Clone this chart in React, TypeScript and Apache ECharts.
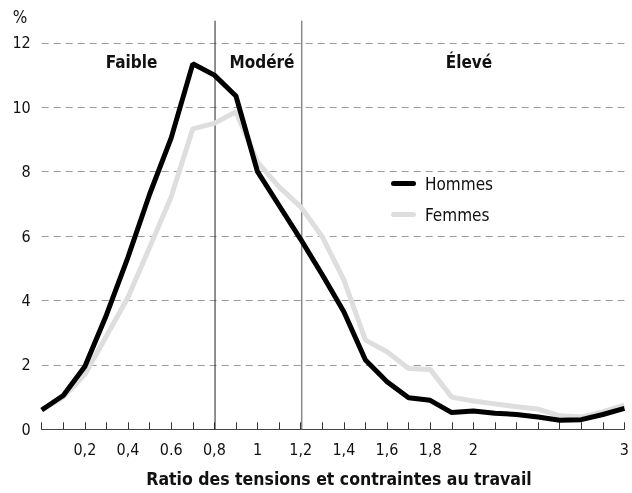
import React, { useEffect, useRef } from "react";
import * as echarts from "echarts";

const categories = ["0", "0.1", "0.2", "0.3", "0.4", "0.5", "0.6", "0.7", "0.8", "0.9", "1.0", "1.1", "1.2", "1.3", "1.4", "1.5", "1.6", "1.7", "1.8", "1.9", "2.0", "2.1", "2.2", "2.3", "2.4", "2.5", "2.6", "3"];
const tickLabels = ["", "", "0,2", "", "0,4", "", "0.6", "", "0,8", "", "1", "", "1,2", "", "1,4", "", "1,6", "", "1,8", "", "2", "", "", "", "", "", "", "3"];
const hommes = [0.6, 1.05, 1.95, 3.55, 5.35, 7.3, 9.05, 11.35, 11.0, 10.35, 8.0, 6.95, 5.9, 4.8, 3.65, 2.15, 1.48, 0.98, 0.9, 0.52, 0.57, 0.5, 0.46, 0.38, 0.28, 0.3, 0.46, 0.65];
const femmes = [0.6, 1.0, 1.7, 2.9, 4.1, 5.65, 7.22, 9.33, 9.5, 9.86, 8.3, 7.53, 6.91, 5.98, 4.64, 2.77, 2.41, 1.89, 1.86, 1.0, 0.88, 0.79, 0.7, 0.63, 0.42, 0.38, 0.55, 0.75];
const dividers = ["0.8", "1.2"];
const zones = ["Faible", "Modéré", "Élevé"];
const yTicks = [0, 2, 4, 6, 8, 10, 12];

const FONT = "'Liberation Sans Narrow', 'Arial Narrow', 'DejaVu Sans Condensed', 'Liberation Sans', sans-serif";
const LEGEND_ICON = "path://M2.5,0 H22.5 A2.5,2.5 0 0 1 22.5,5 H2.5 A2.5,2.5 0 0 1 2.5,0 Z";

export default function App() {
  const ref = useRef<HTMLDivElement>(null);
  useEffect(() => {
    if (!ref.current) return;
    const chart = echarts.init(ref.current, null, { renderer: "svg" });
    const gridPos = { left: 41.7, right: 5.3, bottom: 63.7 };
    const zoneX = [131.5, 262, 469];
    const option: any = {
      animation: false,
      textStyle: { fontFamily: FONT },
      grid: [
        { ...gridPos, top: 42.9 },
        { ...gridPos, top: 20.7 },
      ],
      legend: {
        data: ["Hommes", "Femmes"],
        orient: "vertical",
        left: 386,
        top: 170,
        icon: LEGEND_ICON,
        itemWidth: 25,
        itemHeight: 5,
        itemGap: 14,
        textStyle: { fontFamily: FONT, fontSize: 17, color: "#111", padding: [0, 0, 0, 4] },
      },
      xAxis: [
        {
          type: "category",
          gridIndex: 0,
          data: categories,
          boundaryGap: false,
          axisLine: { lineStyle: { color: "#444", width: 1 } },
          axisTick: { inside: true, length: 7, interval: 0, lineStyle: { color: "#333" } },
          axisLabel: {
            interval: 0,
            margin: 12,
            fontSize: 16,
            color: "#111",
            fontFamily: FONT,
            formatter: (_v: string, i: number) => tickLabels[i],
          },
          splitLine: { show: false },
        },
        {
          type: "category",
          gridIndex: 1,
          data: categories,
          boundaryGap: false,
          show: false,
        },
      ],
      yAxis: [
        {
          type: "value",
          gridIndex: 0,
          min: yTicks[0],
          max: yTicks[yTicks.length - 1],
          interval: 2,
          axisLine: { show: false },
          axisTick: { show: false },
          axisLabel: { margin: 11, fontSize: 16, color: "#111", fontFamily: FONT },
          splitLine: { lineStyle: { color: "#9a9a9a", type: [7, 5], width: 1 } },
        },
        { type: "value", gridIndex: 1, min: 0, max: 1, show: false },
      ],
      graphic: [
        { type: "text", x: 20, y: 17, style: { text: "%", fontSize: 17, fontFamily: FONT, fill: "#111", align: "center", verticalAlign: "middle" } },
        ...zones.map((z, i) => ({
          type: "text",
          x: zoneX[i],
          y: 62,
          style: { text: z, fontSize: 17, fontWeight: "bold", fontFamily: FONT, fill: "#111", align: "center", verticalAlign: "middle" },
        })),
        { type: "text", x: 339, y: 479, style: { text: "Ratio des tensions et contraintes au travail", fontSize: 17.5, fontWeight: "bold", fontFamily: FONT, fill: "#111", align: "center", verticalAlign: "middle" } },
      ],
      series: [
        ...dividers.map((d, i) => ({
          type: "line",
          xAxisIndex: 1,
          yAxisIndex: 1,
          data: [[d, 0], [d, 1]],
          symbol: "none",
          silent: true,
          z: 1,
          lineStyle: { color: i === 0 ? "#222" : "#888", width: i === 0 ? 1 : 1.5 },
        })),
        {
          name: "Femmes",
          type: "line",
          data: femmes,
          symbol: "none",
          z: 3,
          itemStyle: { color: "#dedede" },
          lineStyle: { color: "#dedede", width: 5 },
        },
        {
          name: "Hommes",
          type: "line",
          data: hommes,
          symbol: "none",
          z: 4,
          itemStyle: { color: "#000" },
          lineStyle: { color: "#000", width: 5 },
        },
      ],
    };
    chart.setOption(option);
    return () => chart.dispose();
  }, []);
  return <div ref={ref} style={{ position: "fixed", left: 0, top: 0, width: 632, height: 493 }} />;
}
